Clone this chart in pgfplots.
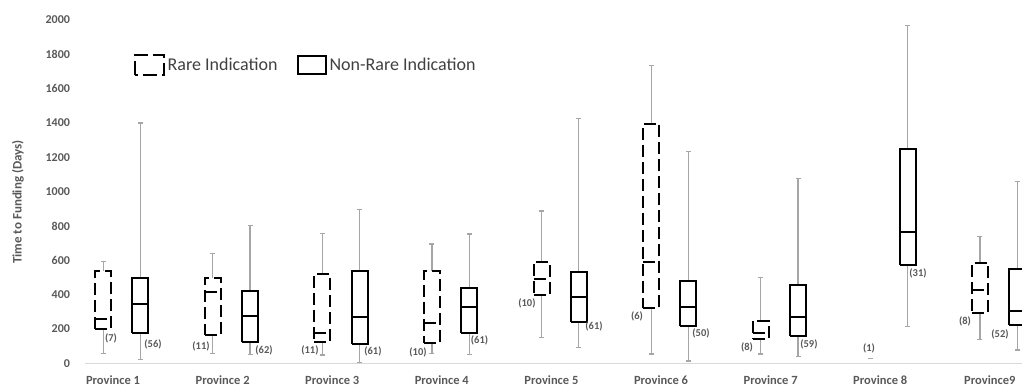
\documentclass[border=0pt]{standalone}
\usepackage{pgfplots}
\pgfplotsset{compat=1.18}
\usepackage{fontspec}
\setmainfont{Carlito}
\definecolor{tickgray}{HTML}{595959}
\definecolor{whisk}{HTML}{A6A6A6}
\definecolor{axgray}{HTML}{D9D9D9}
\definecolor{legtext}{HTML}{404040}
\newcommand{\numfont}{\fontsize{5.25}{6}\selectfont\bfseries}
\pgfplotsset{
  rarebox/.style={black, line width=1pt, dash pattern=on 6pt off 2.5pt, forget plot, mark=none},
  nonbox/.style={black, line width=1pt, solid, forget plot, mark=none},
  wh/.style={whisk, line width=0.6pt, solid, forget plot, mark=-, mark size=1.25pt, mark indices={2}, mark options={solid}},
}
% #1 style, #2 left x, #3 centre x, #4 right x, #5 lower whisker, #6 q1, #7 median, #8 q3, #9 upper whisker
\newcommand{\bx}[9]{%
\addplot[wh] coordinates {(#3,#6) (#3,#5)};
\addplot[wh] coordinates {(#3,#8) (#3,#9)};
\addplot[#1] coordinates {(#2,#6) (#4,#6) (#4,#8) (#2,#8) (#2,#6)};
\addplot[#1] coordinates {(#2,#7) (#4,#7)};
}
\newcommand{\cnt}[3]{\node[font=\numfont, text=tickgray, inner sep=0pt] at (axis cs:#1,#2) {#3};}
\begin{document}
\begin{tikzpicture}
\useasboundingbox (0pt,0pt) rectangle (511pt,193.5pt);
\begin{axis}[
  at={(42.5pt,11.85pt)}, anchor=south west,
  scale only axis, width=477.5pt, height=171.65pt,
  xmin=0.7445, xmax=9.458, ymin=0, ymax=2000,
  axis x line*=bottom, axis y line*=left,
  x axis line style={axgray, line width=0.5pt, -},
  y axis line style={draw=none},
  tick style={draw=none},
  ytick={0,200,...,2000},
  xtick={1,...,9},
  xticklabels={Province 1,Province 2,Province 3,Province 4,Province 5,Province 6,Province 7,Province 8,Province9},
  yticklabel style={font=\fontsize{6}{7}\selectfont\bfseries, text=tickgray, xshift=-4pt,
    /pgf/number format/assume math mode=true, /pgf/number format/1000 sep={}},
  xticklabel style={font=\fontsize{6.25}{7}\selectfont\bfseries, text=tickgray, yshift=-2.5pt},
  ylabel={Time to Funding (Days)},
  ylabel style={at={(axis description cs:-0.0702,0.47)}, anchor=center,
    font=\fontsize{6.5}{7.5}\selectfont\bfseries, text=tickgray},
  clip=false,
  legend style={draw=none, fill=none, font=\fontsize{9}{10}\selectfont, text=legtext,
    at={(axis description cs:0.0505,0.868)}, anchor=west, legend columns=2,
    /tikz/every even column/.append style={column sep=8pt},
    inner sep=0pt, nodes={inner sep=1.5pt}},
]
% Rare indication: left, centre, right, lw, q1, median, q3, uw
\bx{rarebox}{0.837}{0.91}{0.983}{57}{202}{261}{538}{591}
\bx{rarebox}{1.837}{1.91}{1.983}{58}{165}{413}{499}{641}
\bx{rarebox}{2.837}{2.91}{2.983}{48}{126}{175}{520}{757}
\bx{rarebox}{3.837}{3.91}{3.983}{58}{116}{233}{539}{695}
\bx{rarebox}{4.837}{4.91}{4.983}{149}{398}{491}{592}{887}
\bx{rarebox}{5.837}{5.91}{5.983}{54}{320}{592}{1396}{1737}
\bx{rarebox}{6.837}{6.91}{6.983}{54}{140}{175}{248}{501}
\addplot[whisk, line width=0.6pt, mark=-, mark size=1.25pt, forget plot] coordinates {(7.91,30)};
\bx{rarebox}{8.837}{8.91}{8.983}{140}{291}{427}{586}{737}
% Non-rare indication
\bx{nonbox}{1.177}{1.25}{1.323}{23}{175}{345}{499}{1400}
\bx{nonbox}{2.177}{2.25}{2.323}{52}{122}{275}{421}{805}
\bx{nonbox}{3.177}{3.25}{3.323}{3}{112}{268}{539}{897}
\bx{nonbox}{4.177}{4.25}{4.323}{52}{178}{326}{440}{753}
\bx{nonbox}{5.177}{5.25}{5.323}{91}{242}{388}{530}{1427}
\bx{nonbox}{6.177}{6.25}{6.323}{13}{219}{330}{481}{1236}
\bx{nonbox}{7.177}{7.25}{7.323}{38}{161}{271}{456}{1077}
\bx{nonbox}{8.177}{8.25}{8.323}{213}{572}{766}{1246}{1970}
\bx{nonbox}{9.177}{9.25}{9.323}{78}{222}{305}{549}{1058}
% legend
\addlegendimage{legend image code/.code={\draw[black, line width=1pt, dash pattern=on 7pt off 2.5pt] (0pt,-5pt) rectangle (14.5pt,5pt);}}
\addlegendentry{Rare Indication}
\addlegendimage{legend image code/.code={\draw[black, line width=1pt] (0pt,-4.5pt) rectangle (14pt,4.5pt);}}
\addlegendentry{Non-Rare Indication}
% counts
\cnt{0.982}{146}{(7)}
\cnt{1.365}{112}{(56)}
\cnt{1.803}{101}{(11)}
\cnt{2.378}{77}{(62)}
\cnt{2.797}{77}{(11)}
\cnt{3.372}{68}{(61)}
\cnt{3.783}{64}{(10)}
\cnt{4.344}{132}{(61)}
\cnt{4.777}{349}{(10)}
\cnt{5.389}{213}{(61)}
\cnt{5.781}{271}{(6)}
\cnt{6.365}{175}{(50)}
\cnt{6.785}{91}{(8)}
\cnt{7.350}{112}{(59)}
\cnt{7.898}{87}{(1)}
\cnt{8.345}{524}{(31)}
\cnt{8.774}{242}{(8)}
\cnt{9.093}{169}{(52)}
\end{axis}
\end{tikzpicture}
\end{document}
